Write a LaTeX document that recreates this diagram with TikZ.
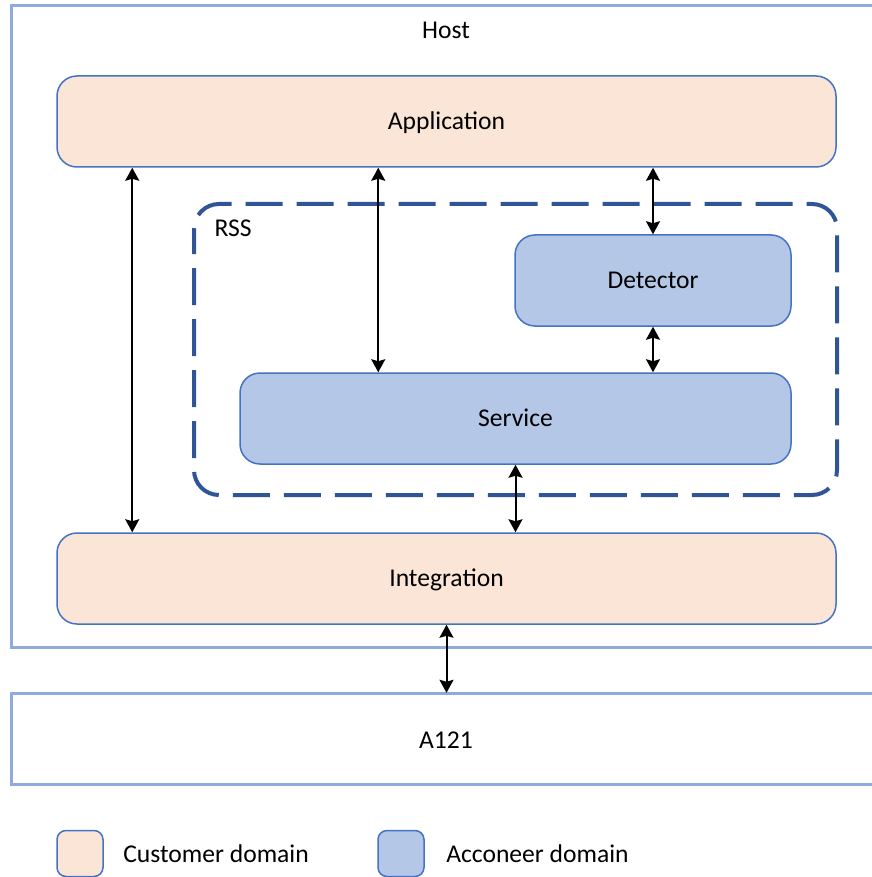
\documentclass[tikz,border=0pt]{standalone}
\usepackage{fontspec}
\setmainfont{Carlito}
\usetikzlibrary{arrows.meta,positioning}

\definecolor{peach}{HTML}{FBE5D6}
\definecolor{paleblue}{HTML}{B4C7E7}
\definecolor{edgeblue}{HTML}{4472C4}
\definecolor{hostblue}{HTML}{8FAADC}
\definecolor{rssblue}{HTML}{2F5597}

\tikzset{
    customer node/.style={rectangle,draw=edgeblue,fill=peach,line width=1.5pt,rounded corners=20pt,inner sep=0,text height=16.5pt,text depth=0pt},
    acconeer node/.style={rectangle,draw=edgeblue,fill=paleblue,line width=1.5pt,rounded corners=20pt,inner sep=0,text height=16.5pt,text depth=0pt},
    frame/.style={draw=hostblue,line width=3pt},
    link/.style={{Stealth[length=13pt,width=14pt,inset=2pt]}-{Stealth[length=13pt,width=14pt,inset=2pt]},line width=2pt,black},
    legend box/.style={minimum width=46pt,minimum height=46pt,rounded corners=9pt}
    }

\begin{document}
\begin{tikzpicture}[x=1pt,y=-1pt,font=\fontsize{25.6}{30}\selectfont]
                \useasboundingbox (0,0) rectangle (871,877);
                % host and sensor frames
                \draw[frame] (11,6) rectangle (890,647);
                \node(host) at (446,30){Host};
                \draw[frame] (11,693) rectangle (890,784);
                \node(a121) [minimum width=879pt,minimum height=91pt,inner sep=0] at (450.5,738.5){};
                \node at (446,740){A121};
                % rss boundary
                \draw[rssblue,line width=4pt,dash pattern=on 37pt off 14pt,dash phase=12pt,rounded corners=25pt] (194,204) rectangle (837,495);
                \node(rss)[anchor=west] at (211,228){RSS};
                % blocks
                \node(app)[customer node,minimum width=779pt,minimum height=91pt] at (446.5,121.5){Application};
                \node(det)[acconeer node,minimum width=276pt,minimum height=91pt] at (653,280.5){Detector};
                \node(svc)[acconeer node,minimum width=551pt,minimum height=91pt] at (515.5,418.5){Service};
                \node(int)[customer node,minimum width=779pt,minimum height=91pt] at (446.5,578.5){Integration};
                % connections
                \draw[link] ([xshift=76pt]app.south west) -- ([xshift=76pt]int.north west);
                \draw[link] ([xshift=139pt]svc.north west) coordinate(s1) -- (s1 |- app.south);
                \draw[link] (app.south -| det.north) -- (det.north);
                \draw[link] (det.south) -- (svc.north -| det.south);
                \draw[link] (svc.south) -- (int.north -| svc.south);
                \draw[link] (int.south) -- (a121.north -| int.south);
                % legend
                \node(cust)[customer node,legend box] at (80,853.5){};
                \node[right=16pt of cust]{Customer domain};
                \node(acc)[acconeer node,legend box] at (401,853.5){};
                \node[right=18pt of acc]{Acconeer domain};
            \end{tikzpicture}
\end{document}
